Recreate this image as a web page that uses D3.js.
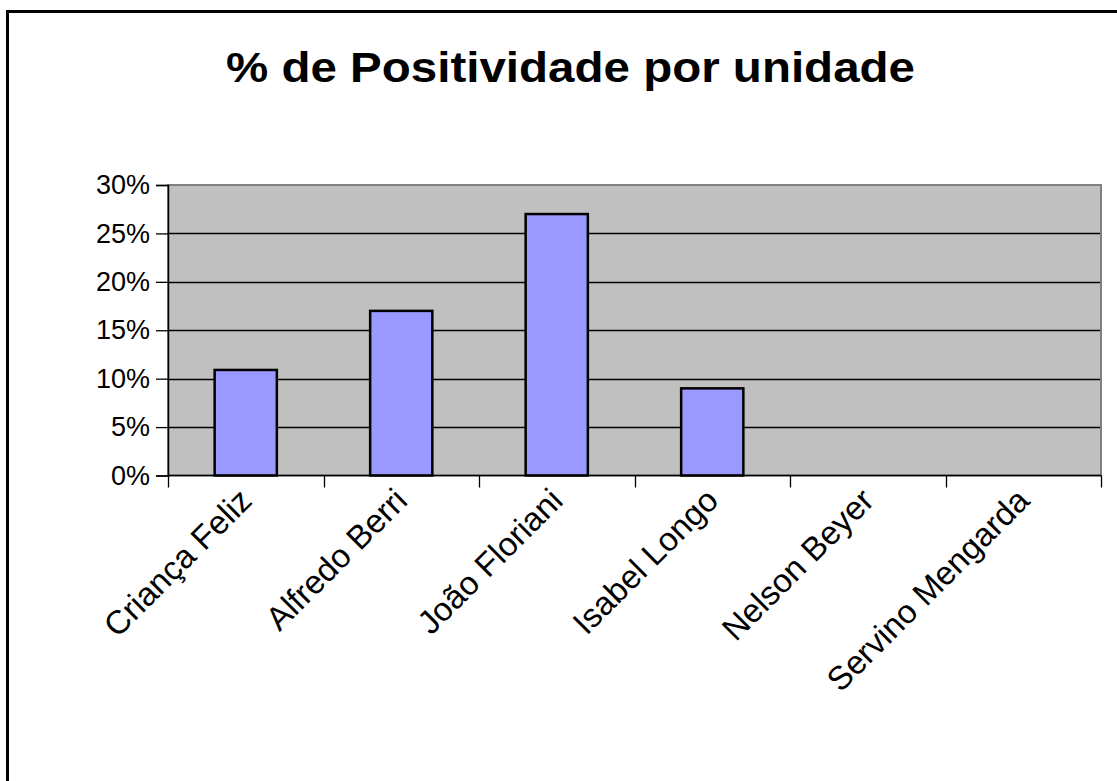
<!DOCTYPE html>
<html>
<head>
<meta charset="utf-8">
<script src="https://cdn.jsdelivr.net/npm/d3@7"></script>
<style>
  html, body { margin: 0; padding: 0; background: #fff; }
  svg { display: block; font-family: "Liberation Sans", Arial, Helvetica, sans-serif; }
</style>
</head>
<body>
<svg id="chart" width="1117" height="781"></svg>
<script>
// chart data
const categories = ["Criança Feliz", "Alfredo Berri", "João Floriani", "Isabel Longo", "Nelson Beyer", "Servino Mengarda"];
const values = [0.109, 0.170, 0.270, 0.090, 0, 0];
const yTicks = [0, 0.05, 0.10, 0.15, 0.20, 0.25, 0.30];
const title = "% de Positividade por unidade";

const svg = d3.select('#chart');
const W = 1117, H = 781;

// plot area box
const plot = { left: 168, top: 185, right: 1101, bottom: 475.5 };

// outer frame (right and bottom edges fall outside the picture)
svg.append('rect')
  .attr('x', 7.5).attr('y', 11.5)
  .attr('width', W + 20).attr('height', H + 20)
  .attr('fill', '#fff').attr('stroke', '#000').attr('stroke-width', 3);

svg.append('text')
  .attr('x', 226).attr('y', 82)
  .attr('font-size', 43).attr('font-weight', 'bold')
  .attr('textLength', 689).attr('lengthAdjust', 'spacingAndGlyphs')
  .text(title);

const x = d3.scaleBand()
  .domain(categories)
  .range([plot.left, plot.right])
  .paddingInner(0.6).paddingOuter(0.3);

const y = d3.scaleLinear()
  .domain([0, 0.30])
  .range([plot.bottom, plot.top]);

// plot background
svg.append('rect')
  .attr('x', plot.left).attr('y', plot.top)
  .attr('width', plot.right - plot.left).attr('height', plot.bottom - plot.top)
  .attr('fill', '#c0c0c0');

// gridlines
svg.append('g')
  .selectAll('line')
  .data(yTicks.filter(t => t > 0 && t < 0.30))
  .join('line')
  .attr('x1', plot.left).attr('x2', plot.right)
  .attr('y1', d => Math.round(y(d)) + 0.5).attr('y2', d => Math.round(y(d)) + 0.5)
  .attr('stroke', '#000').attr('stroke-width', 1.3);

// plot border
svg.append('rect')
  .attr('x', plot.left).attr('y', plot.top)
  .attr('width', plot.right - plot.left).attr('height', plot.bottom - plot.top)
  .attr('fill', 'none').attr('stroke', '#808080').attr('stroke-width', 2);

// bars
svg.append('g')
  .selectAll('rect')
  .data(values.map((v, i) => ({ cat: categories[i], v })).filter(d => d.v > 0))
  .join('rect')
  .attr('x', d => x(d.cat))
  .attr('y', d => y(d.v))
  .attr('width', x.bandwidth())
  .attr('height', d => y(0) - y(d.v))
  .attr('fill', '#9999ff').attr('stroke', '#000').attr('stroke-width', 2.5);

// y axis
const yAxis = svg.append('g')
  .attr('transform', `translate(${plot.left},0)`)
  .call(d3.axisLeft(y).tickValues(yTicks).tickFormat(d3.format('.0%')).tickSize(12).tickPadding(6));
yAxis.select('.domain').attr('stroke', '#000').attr('stroke-width', 1.5);
yAxis.selectAll('.tick line').attr('stroke', '#000').attr('stroke-width', 1.3);
yAxis.selectAll('.tick text')
  .attr('font-size', 27).attr('fill', '#000')
  .attr('font-family', '"Liberation Sans", Arial, sans-serif');

// x axis: ticks at category boundaries
const bounds = d3.range(categories.length + 1).map(i => plot.left + i * (plot.right - plot.left) / categories.length);
const xAxisG = svg.append('g');
xAxisG.append('line')
  .attr('x1', plot.left).attr('x2', plot.right)
  .attr('y1', plot.bottom).attr('y2', plot.bottom)
  .attr('stroke', '#000').attr('stroke-width', 1.5);
xAxisG.selectAll('line.tick')
  .data(bounds)
  .join('line').attr('class', 'tick')
  .attr('x1', d => Math.round(d) + 0.5).attr('x2', d => Math.round(d) + 0.5)
  .attr('y1', plot.bottom).attr('y2', plot.bottom + 12)
  .attr('stroke', '#000').attr('stroke-width', 1.3);

xAxisG.selectAll('text')
  .data(categories)
  .join('text')
  .attr('transform', d => `translate(${x(d) + x.bandwidth() / 2 + 8},${plot.bottom + 27}) rotate(-45)`)
  .attr('text-anchor', 'end')
  .attr('font-size', 33)
  .text(d => d);
</script>
</body>
</html>
